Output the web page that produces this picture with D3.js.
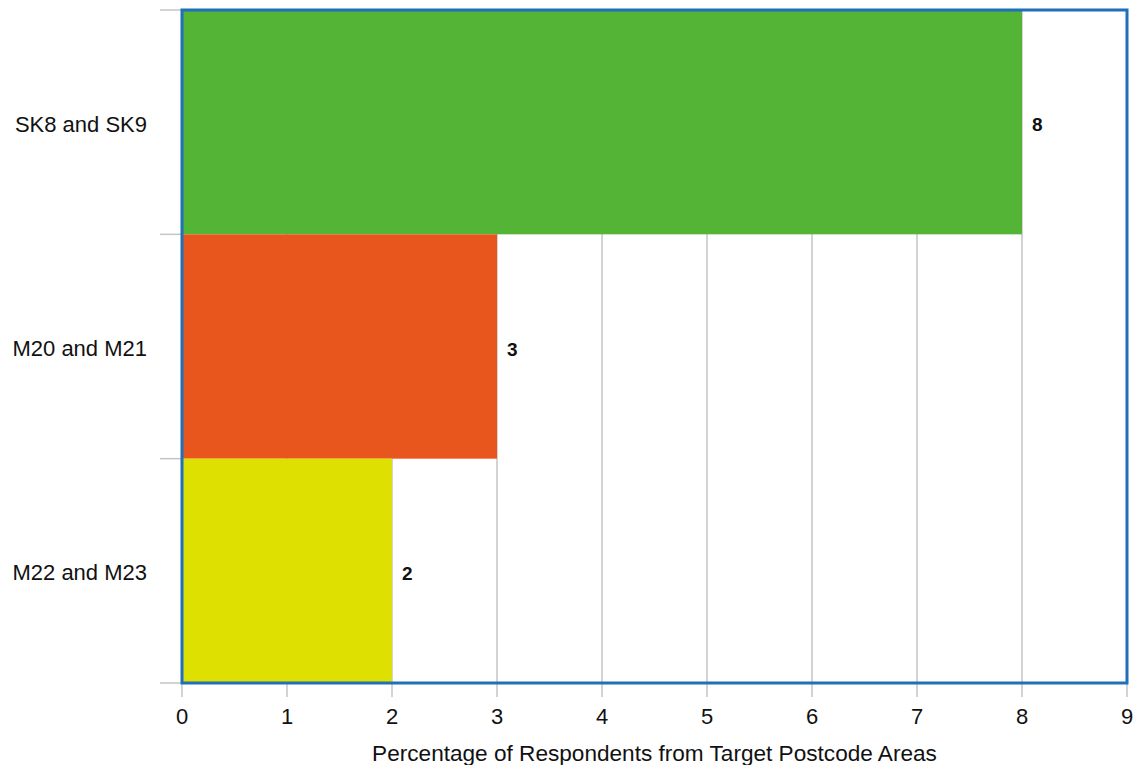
<!DOCTYPE html>
<html><head><meta charset="utf-8">
<script src="https://cdn.jsdelivr.net/npm/d3@7"></script>
<style>body{margin:0;background:#fff;}svg{display:block;font-family:"Liberation Sans",Arial,sans-serif;}</style>
</head><body><svg id="c" width="1136" height="765"></svg>
<script>
const categories = ["SK8 and SK9", "M20 and M21", "M22 and M23"];
const values = [8, 3, 2];
const colors = ["#54b435", "#e9561d", "#dde000"];
const xTicks = [0,1,2,3,4,5,6,7,8,9];
const xTitle = "Percentage of Respondents from Target Postcode Areas";

const svg = d3.select("#c");
const L = 182, R = 1127, T = 10, B = 683;
const x = d3.scaleLinear().domain([0, 9]).range([L, R]);
const y = d3.scaleBand().domain(categories).range([T, B]).padding(0);

// gridlines
svg.append("g").selectAll("line").data(xTicks).join("line")
  .attr("x1", d => x(d)).attr("x2", d => x(d)).attr("y1", T).attr("y2", B + 14)
  .attr("stroke", "#c4c4c4").attr("stroke-width", 1.5);

// category tick marks
const yEdges = categories.map(c => y(c)).concat([B]);
svg.append("g").selectAll("line").data(yEdges).join("line")
  .attr("x1", L - 22).attr("x2", L).attr("y1", d => d).attr("y2", d => d)
  .attr("stroke", "#c4c4c4").attr("stroke-width", 1.5);

// bars
svg.append("g").selectAll("rect").data(values).join("rect")
  .attr("x", x(0)).attr("y", (d, i) => y(categories[i]))
  .attr("width", d => x(d) - x(0)).attr("height", y.bandwidth())
  .attr("fill", (d, i) => colors[i]);

// value labels
svg.append("g").selectAll("text").data(values).join("text")
  .attr("x", d => x(d) + 10).attr("y", (d, i) => y(categories[i]) + y.bandwidth() / 2 + 9)
  .attr("font-size", 19).attr("font-weight", "bold").attr("fill", "#111")
  .text(d => d);

// frame
svg.append("rect").attr("x", L).attr("y", T).attr("width", R - L).attr("height", B - T)
  .attr("fill", "none").attr("stroke", "#1f6fba").attr("stroke-width", 3);

// x tick labels
svg.append("g").selectAll("text").data(xTicks).join("text")
  .attr("x", d => x(d)).attr("y", 724).attr("text-anchor", "middle")
  .attr("font-size", 22).attr("fill", "#111").text(d => d);

// category labels
svg.append("g").selectAll("text").data(categories).join("text")
  .attr("x", 147).attr("y", d => y(d) + y.bandwidth() / 2 + 9.5)
  .attr("text-anchor", "end").attr("font-size", 22).attr("fill", "#111").text(d => d);

// axis title
svg.append("text").attr("x", (L + R) / 2).attr("y", 761).attr("text-anchor", "middle")
  .attr("font-size", 22.6).attr("fill", "#111").text(xTitle);
</script></body></html>
